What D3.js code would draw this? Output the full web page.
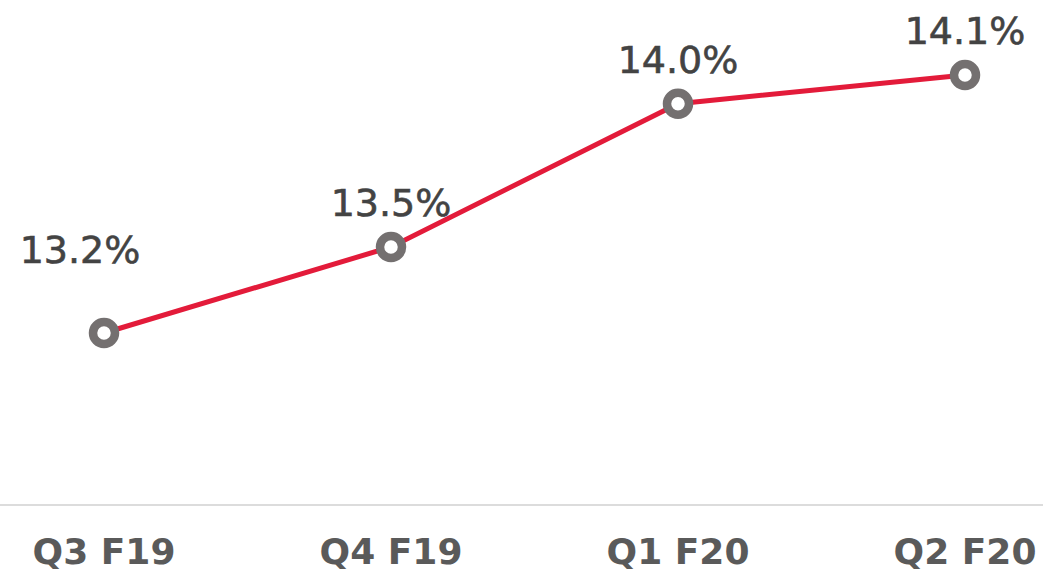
<!DOCTYPE html>
<html>
<head>
<meta charset="utf-8">
<script src="https://cdn.jsdelivr.net/npm/d3@7"></script>
<style>
    body { margin: 0; background: #fff; }
    .axisLabel { font-family: "DejaVu Sans", sans-serif; font-weight: bold; font-size: 36px; fill: #5a5a5a; }
    .valueLabel { font-family: "DejaVu Sans", sans-serif; font-size: 38px; fill: #434343; stroke: #434343; stroke-width: 0.6px; }
</style>
</head>
<body>
<svg class="chart"></svg>
<script>
var quarters = ["Q3 F19", "Q4 F19", "Q1 F20", "Q2 F20"];
var margins = [13.2, 13.5, 14.0, 14.1];
var marginLabels = ["13.2%", "13.5%", "14.0%", "14.1%"];

initChart();

function initChart() {
    var outerSize = {width: 1043, height: 573};
    var baselineY = 505;

    var chart = d3.select(".chart")
            .attr("width", outerSize.width)
            .attr("height", outerSize.height);

    var xRange = d3.scalePoint()
            .domain(quarters)
            .range([104, 965]);

    var yRange = d3.scaleLinear()
            .domain([12.6, 14.1])
            .range([baselineY, 75]);

    // baseline
    chart.append("line")
            .attr("x1", 0)
            .attr("x2", outerSize.width)
            .attr("y1", baselineY)
            .attr("y2", baselineY)
            .attr("stroke", "#dcdcdc")
            .attr("stroke-width", 2);

    // category labels
    chart.selectAll(".axisLabel")
            .data(quarters)
            .enter().append("text")
            .attr("class", "axisLabel")
            .attr("x", function (q) { return xRange(q); })
            .attr("y", 564)
            .style("text-anchor", "middle")
            .text(function (q) { return q; });

    var points = quarters.map(function (q, i) {
        return {quarter: q, value: margins[i], label: marginLabels[i], index: i};
    });

    var line = d3.line()
            .x(function (d) { return xRange(d.quarter); })
            .y(function (d) { return yRange(d.value); });

    chart.append("path")
            .datum(points)
            .attr("d", line)
            .attr("fill", "none")
            .attr("stroke", "#e31b3a")
            .attr("stroke-width", 5);

    chart.selectAll(".marker")
            .data(points)
            .enter().append("circle")
            .attr("class", "marker")
            .attr("cx", function (d) { return xRange(d.quarter); })
            .attr("cy", function (d) { return yRange(d.value); })
            .attr("r", 11)
            .attr("fill", "#fff")
            .attr("stroke", "#747070")
            .attr("stroke-width", 8.5);

    // first label sits up and to the left of its point, others straight above
    chart.selectAll(".valueLabel")
            .data(points)
            .enter().append("text")
            .attr("class", "valueLabel")
            .attr("x", function (d) { return xRange(d.quarter) + (d.index === 0 ? -24 : 0); })
            .attr("y", function (d) { return yRange(d.value) + (d.index === 0 ? -70 : -31); })
            .style("text-anchor", "middle")
            .text(function (d) { return d.label; });
}
</script>
</body>
</html>
